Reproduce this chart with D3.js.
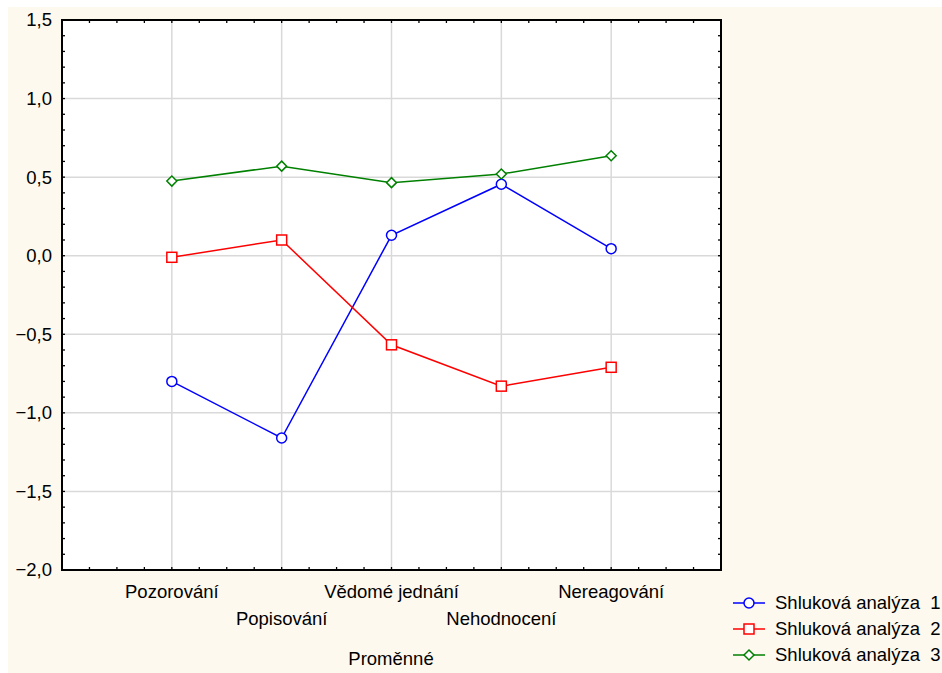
<!DOCTYPE html>
<html>
<head>
<meta charset="utf-8">
<script src="https://cdn.jsdelivr.net/npm/d3@7"></script>
<style>
  body { margin: 0; background: #fff; }
  text { font-family: "Liberation Sans", Arial, sans-serif; }
</style>
</head>
<body>
<svg id="chart" width="942" height="673"></svg>
<script>
// data
const categories = ["Pozorování", "Popisování", "Vědomé jednání", "Nehodnocení", "Nereagování"];
const cluster1 = [-0.80, -1.16, 0.13, 0.455, 0.045];
const cluster2 = [-0.01, 0.10, -0.567, -0.83, -0.71];
const cluster3 = [0.475, 0.57, 0.465, 0.52, 0.636];
const seriesNames = ["Shluková analýza  1", "Shluková analýza  2", "Shluková analýza  3"];
const yTicks = [1.5, 1.0, 0.5, 0.0, -0.5, -1.0, -1.5, -2.0];

const margin = { top: 20, left: 62 };
const width = 659, height = 550;
const fontSize = "18.5px";

const svg = d3.select("#chart");

// cream background
svg.append("rect")
  .attr("x", 8).attr("y", 7)
  .attr("width", 934).attr("height", 666)
  .attr("fill", "#fdf9ef");

const g = svg.append("g").attr("transform", `translate(${margin.left},${margin.top})`);

g.append("rect").attr("width", width).attr("height", height).attr("fill", "#fff");

const x = d3.scaleLinear().domain([0, 6]).range([0, width]);
const y = d3.scaleLinear().domain([-2, 1.5]).range([height, 0]);

// grid
g.selectAll(".hgrid").data(yTicks.slice(1, -1)).enter().append("line")
  .attr("x1", 0).attr("x2", width)
  .attr("y1", d => y(d)).attr("y2", d => y(d))
  .attr("stroke", "#d9d9d9").attr("stroke-width", 1.5);
g.selectAll(".vgrid").data(categories).enter().append("line")
  .attr("x1", (d, i) => x(i + 1)).attr("x2", (d, i) => x(i + 1))
  .attr("y1", 0).attr("y2", height)
  .attr("stroke", "#d9d9d9").attr("stroke-width", 1.5);

// inner ticks on all four sides
const yMinor = d3.range(-2, 1.5001, 0.1);
const xMinor = d3.range(0, 6.001, 0.25);
function tickLines(data, attrs) {
  g.append("g").selectAll("line").data(data).enter().append("line")
    .attr("x1", attrs.x1).attr("x2", attrs.x2).attr("y1", attrs.y1).attr("y2", attrs.y2)
    .attr("stroke", "#000").attr("stroke-width", 1.3);
}
tickLines(yMinor, { x1: 0, x2: 3, y1: d => y(d), y2: d => y(d) });
tickLines(yMinor, { x1: width, x2: width - 3, y1: d => y(d), y2: d => y(d) });
tickLines(xMinor, { x1: d => x(d), x2: d => x(d), y1: 0, y2: 3 });
tickLines(xMinor, { x1: d => x(d), x2: d => x(d), y1: height, y2: height - 3 });

g.append("rect").attr("width", width).attr("height", height)
  .attr("fill", "none").attr("stroke", "#000").attr("stroke-width", 2);

// y labels
g.selectAll(".ylab").data(yTicks).enter().append("text")
  .attr("x", -10).attr("y", d => y(d)).attr("dy", "0.35em")
  .attr("text-anchor", "end").style("font-size", fontSize).attr("fill", "#000")
  .text(d => d3.format(".1f")(d).replace(".", ","));

// x labels, staggered
g.selectAll(".xlab").data(categories).enter().append("text")
  .attr("x", (d, i) => x(i + 1))
  .attr("y", (d, i) => height + (i % 2 === 0 ? 28 : 55))
  .attr("text-anchor", "middle").style("font-size", fontSize).attr("fill", "#000")
  .text(d => d);

svg.append("text")
  .attr("x", 391).attr("y", 665)
  .attr("text-anchor", "middle").style("font-size", fontSize)
  .text("Proměnné");

const series = [
  { name: seriesNames[0], values: cluster1, color: "#0000ff", shape: "circle" },
  { name: seriesNames[1], values: cluster2, color: "#ff0000", shape: "square" },
  { name: seriesNames[2], values: cluster3, color: "#008000", shape: "diamond" }
];

function drawMarker(sel, shape, color) {
  if (shape === "circle") {
    sel.append("circle").attr("r", 5);
  } else if (shape === "square") {
    sel.append("rect").attr("x", -5).attr("y", -5).attr("width", 10).attr("height", 10);
  } else {
    sel.append("path").attr("d", "M0,-5L5,0L0,5L-5,0Z");
  }
  sel.selectAll("*").attr("fill", "#fff").attr("stroke", color).attr("stroke-width", 1.5);
}

const line = d3.line().x((d, i) => x(i + 1)).y(d => y(d));

series.forEach(s => {
  g.append("path").attr("d", line(s.values))
    .attr("fill", "none").attr("stroke", s.color).attr("stroke-width", 1.5);
  s.values.forEach((v, i) => {
    const m = g.append("g").attr("transform", `translate(${x(i + 1)},${y(v)})`);
    drawMarker(m, s.shape, s.color);
  });
});

// legend
series.forEach((s, i) => {
  const ly = 603 + i * 26;
  svg.append("line").attr("x1", 733).attr("x2", 765).attr("y1", ly).attr("y2", ly)
    .attr("stroke", s.color).attr("stroke-width", 1.5);
  const m = svg.append("g").attr("transform", `translate(749,${ly})`);
  drawMarker(m, s.shape, s.color);
  svg.append("text").attr("x", 775).attr("y", ly).attr("dy", "0.35em")
    .style("font-size", fontSize).style("white-space", "pre").text(s.name);
});
</script>
</body>
</html>
